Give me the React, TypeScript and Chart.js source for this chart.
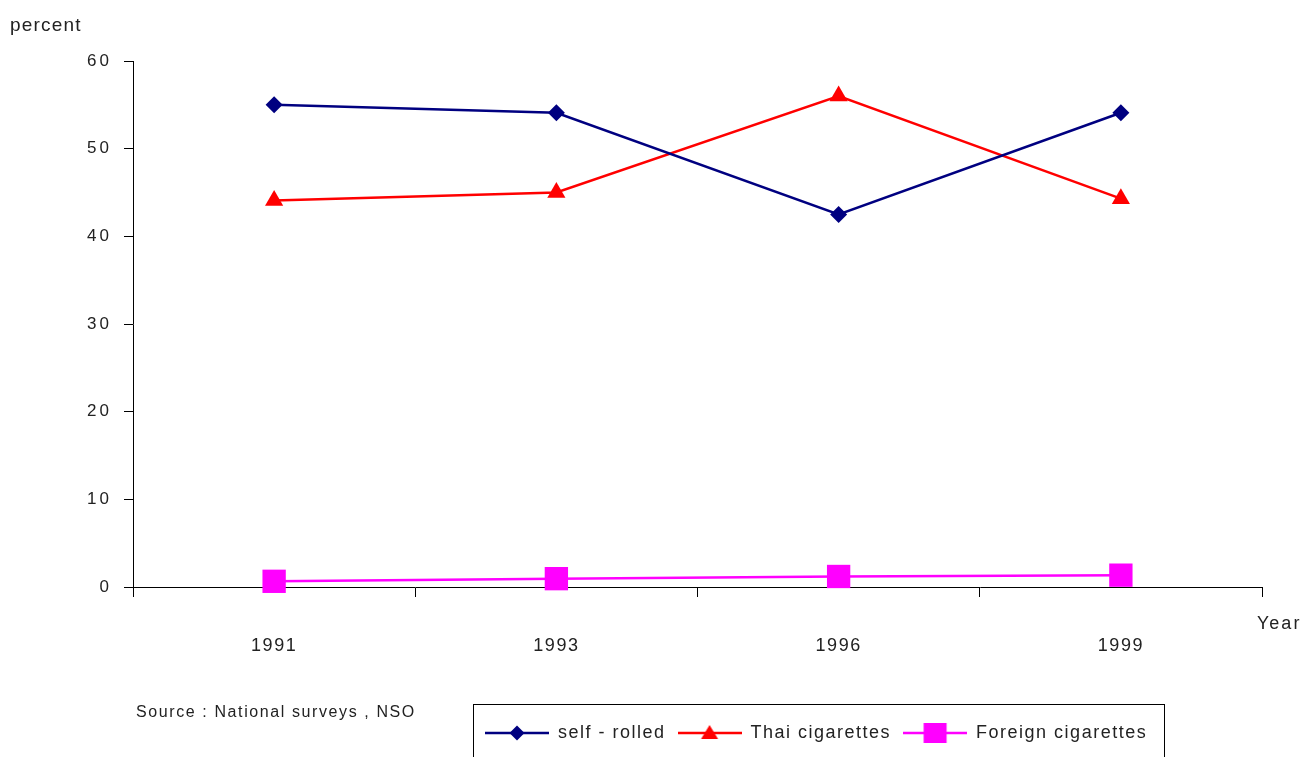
import React, { useEffect, useRef } from "react";
import { Chart, registerables } from "chart.js";

Chart.register(...registerables);

const years = ["1991", "1993", "1996", "1999"];
const selfRolled = [55, 54.1, 42.5, 54.1];
const thaiCigarettes = [44.1, 45, 56, 44.3];
const foreignCigarettes = [0.65, 0.95, 1.2, 1.35];
const seriesNames = ["self - rolled", "Thai cigarettes", "Foreign cigarettes"];
const seriesColors = ["#000080", "#FF0000", "#FF00FF"];
const yMin = 0;
const yMax = 60;
const yStep = 10;
const yAxisTitle = "percent";
const xAxisTitle = "Year";
const sourceNote = "Source : National surveys , NSO";

const FONT = "'Liberation Sans', Arial, sans-serif";
const TEXT = "#222222";

function makeLegendSymbol(color: string, kind: string): HTMLCanvasElement {
  const c = document.createElement("canvas");
  c.width = 64;
  c.height = 24;
  const g = c.getContext("2d")!;
  g.strokeStyle = color;
  g.lineWidth = 2.5;
  g.beginPath();
  g.moveTo(0, 12);
  g.lineTo(64, 12);
  g.stroke();
  g.fillStyle = color;
  g.beginPath();
  if (kind === "diamond") {
    g.moveTo(32, 4.5);
    g.lineTo(39.5, 12);
    g.lineTo(32, 19.5);
    g.lineTo(24.5, 12);
  } else if (kind === "triangle") {
    g.moveTo(32, 4);
    g.lineTo(40.5, 18);
    g.lineTo(23.5, 18);
  } else {
    g.rect(20.5, 2, 23, 20);
  }
  g.closePath();
  g.fill();
  return c;
}

const spacingPlugin = {
  id: "spacing",
  beforeUpdate(chart: any) {
    chart.ctx.letterSpacing = "1.5px";
  },
  beforeDraw(chart: any) {
    const ctx = chart.ctx;
    ctx.letterSpacing = "1.5px";
    const y = chart.scales.y;
    if (y && !y.__patched) {
      const orig = y.drawLabels.bind(y);
      y.drawLabels = (ca: any) => {
        ctx.save();
        ctx.letterSpacing = "3px";
        orig(ca);
        ctx.restore();
      };
      y.__patched = true;
    }
  },
  afterLayout(chart: any) {
    const lg = chart.legend;
    if (lg) {
      lg.left = 473;
      lg.right = 1306;
      lg.top = 712;
      lg.bottom = lg.top + lg.height;
    }
  },
  afterDraw(chart: any) {
    const ctx = chart.ctx;
    ctx.save();
    ctx.fillStyle = TEXT;
    ctx.textBaseline = "middle";
    ctx.textAlign = "left";
    ctx.font = `19px ${FONT}`;
    ctx.letterSpacing = "1.2px";
    ctx.fillText(yAxisTitle, 10, 26);
    ctx.font = `18px ${FONT}`;
    ctx.letterSpacing = "2px";
    ctx.fillText(xAxisTitle, 1257, 624);
    ctx.font = `16px ${FONT}`;
    ctx.letterSpacing = "1.6px";
    ctx.fillText(sourceNote, 136, 713);
    ctx.strokeStyle = "#000";
    ctx.lineWidth = 1;
    ctx.strokeRect(473.5, 704.5, 691, 60);
    ctx.restore();
  },
};

export default function App() {
  const ref = useRef<HTMLCanvasElement>(null);
  useEffect(() => {
    const canvas = ref.current!;
    document.body.style.margin = "0";
    const kinds = ["diamond", "triangle", "square"];
    const symbols = seriesColors.map((c, i) => makeLegendSymbol(c, kinds[i]));
    const chart = new Chart(canvas, {
      type: "line",
      data: {
        labels: years,
        datasets: [
          {
            label: seriesNames[0],
            data: selfRolled,
            borderColor: seriesColors[0],
            backgroundColor: seriesColors[0],
            borderWidth: 2.5,
            pointStyle: "rectRot",
            pointRadius: 8.5,
            pointBorderWidth: 0,
            clip: false,
          },
          {
            label: seriesNames[1],
            data: thaiCigarettes,
            borderColor: seriesColors[1],
            backgroundColor: seriesColors[1],
            borderWidth: 2.5,
            pointStyle: "triangle",
            pointRadius: 10.5,
            pointBorderWidth: 0,
            clip: false,
          },
          {
            label: seriesNames[2],
            data: foreignCigarettes,
            borderColor: seriesColors[2],
            backgroundColor: seriesColors[2],
            borderWidth: 2.5,
            pointStyle: "rect",
            pointRadius: 16.5,
            pointBorderWidth: 0,
            clip: false,
          },
        ],
      },
      options: {
        animation: false,
        responsive: false,
        devicePixelRatio: 1,
        layout: { padding: { left: 10, right: 44, top: 61, bottom: 0 } },
        plugins: {
          title: { display: false },
          tooltip: { enabled: false },
          legend: {
            display: true,
            position: "bottom",
            align: "start",
            labels: {
              usePointStyle: true,
              pointStyleWidth: 64,
              padding: 12,
              color: TEXT,
              font: { family: FONT, size: 18 },
              generateLabels: (ch: any) =>
                ch.data.datasets.map((ds: any, i: number) => ({
                  text: ds.label,
                  pointStyle: symbols[i],
                  fillStyle: seriesColors[i],
                  strokeStyle: seriesColors[i],
                  fontColor: TEXT,
                  lineWidth: 0,
                  hidden: false,
                  datasetIndex: i,
                })),
            },
          },
        },
        scales: {
          x: {
            type: "category",
            offset: true,
            grid: {
              display: true,
              offset: true,
              drawOnChartArea: false,
              drawTicks: true,
              tickLength: 10,
              color: "#000",
            },
            border: { display: true, color: "#000", width: 1 },
            ticks: {
              color: TEXT,
              font: { family: FONT, size: 18 },
              padding: 38,
              maxRotation: 0,
            },
            afterFit: (scale: any) => {
              const lh = scale.chart.legend ? scale.chart.legend.height : 0;
              scale.height = 170 - lh;
            },
          },
          y: {
            min: yMin,
            max: yMax,
            grid: {
              display: true,
              drawOnChartArea: false,
              drawTicks: true,
              tickLength: 9,
              color: "#000",
            },
            border: { display: true, color: "#000", width: 1 },
            ticks: {
              stepSize: yStep,
              color: TEXT,
              font: { family: FONT, size: 17 },
              padding: 12,
            },
            afterFit: (scale: any) => {
              scale.width = 123;
            },
          },
        },
      },
      plugins: [spacingPlugin],
    });
    return () => chart.destroy();
  }, []);
  return (
    <div style={{ position: "absolute", left: 0, top: 0, width: 1306, height: 757 }}>
      <canvas ref={ref} width={1306} height={757} style={{ display: "block" }} />
    </div>
  );
}
